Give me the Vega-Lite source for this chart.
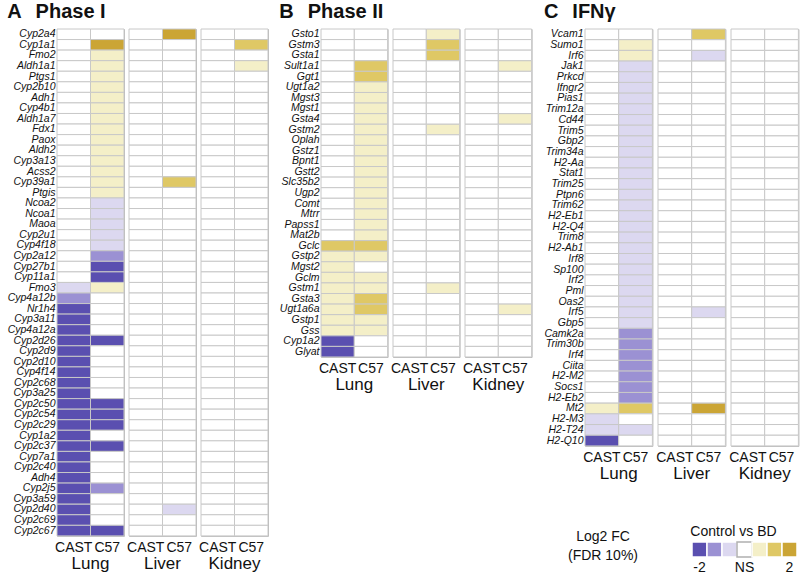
{
"$schema":"https://vega.github.io/schema/vega-lite/v6.json",
"background":"white",
"padding":{"left":7,"top":2,"right":2,"bottom":0},
"config":{
"font":"Liberation Sans",
"view":{"stroke":"#b8b8b8","strokeWidth":1},
"concat":{"spacing":10},
"facet":{"spacing":5},
"axis":{"domain":false,"ticks":false,"grid":false,"title":null,"labelColor":"#111"},
"title":{"anchor":"start","fontSize":20,"fontWeight":"bold","color":"#111","frame":"bounds","offset":6},
"header":{"title":null,"labelOrient":"bottom","labelFontSize":17,"labelPadding":2,"labelColor":"#111"}
},
"datasets":{
"A":[
{"g":"Cyp2a4","t":"Lung","s":"CAST","v":0},{"g":"Cyp2a4","t":"Lung","s":"C57","v":0},{"g":"Cyp2a4","t":"Liver","s":"CAST","v":0},{"g":"Cyp2a4","t":"Liver","s":"C57","v":3},{"g":"Cyp2a4","t":"Kidney","s":"CAST","v":0},{"g":"Cyp2a4","t":"Kidney","s":"C57","v":0},
{"g":"Cyp1a1","t":"Lung","s":"CAST","v":0},{"g":"Cyp1a1","t":"Lung","s":"C57","v":3},{"g":"Cyp1a1","t":"Liver","s":"CAST","v":0},{"g":"Cyp1a1","t":"Liver","s":"C57","v":0},{"g":"Cyp1a1","t":"Kidney","s":"CAST","v":0},{"g":"Cyp1a1","t":"Kidney","s":"C57","v":2},
{"g":"Fmo2","t":"Lung","s":"CAST","v":0},{"g":"Fmo2","t":"Lung","s":"C57","v":1},{"g":"Fmo2","t":"Liver","s":"CAST","v":0},{"g":"Fmo2","t":"Liver","s":"C57","v":0},{"g":"Fmo2","t":"Kidney","s":"CAST","v":0},{"g":"Fmo2","t":"Kidney","s":"C57","v":0},
{"g":"Aldh1a1","t":"Lung","s":"CAST","v":0},{"g":"Aldh1a1","t":"Lung","s":"C57","v":1},{"g":"Aldh1a1","t":"Liver","s":"CAST","v":0},{"g":"Aldh1a1","t":"Liver","s":"C57","v":0},{"g":"Aldh1a1","t":"Kidney","s":"CAST","v":0},{"g":"Aldh1a1","t":"Kidney","s":"C57","v":1},
{"g":"Ptgs1","t":"Lung","s":"CAST","v":0},{"g":"Ptgs1","t":"Lung","s":"C57","v":1},{"g":"Ptgs1","t":"Liver","s":"CAST","v":0},{"g":"Ptgs1","t":"Liver","s":"C57","v":0},{"g":"Ptgs1","t":"Kidney","s":"CAST","v":0},{"g":"Ptgs1","t":"Kidney","s":"C57","v":0},
{"g":"Cyp2b10","t":"Lung","s":"CAST","v":0},{"g":"Cyp2b10","t":"Lung","s":"C57","v":1},{"g":"Cyp2b10","t":"Liver","s":"CAST","v":0},{"g":"Cyp2b10","t":"Liver","s":"C57","v":0},{"g":"Cyp2b10","t":"Kidney","s":"CAST","v":0},{"g":"Cyp2b10","t":"Kidney","s":"C57","v":0},
{"g":"Adh1","t":"Lung","s":"CAST","v":0},{"g":"Adh1","t":"Lung","s":"C57","v":1},{"g":"Adh1","t":"Liver","s":"CAST","v":0},{"g":"Adh1","t":"Liver","s":"C57","v":0},{"g":"Adh1","t":"Kidney","s":"CAST","v":0},{"g":"Adh1","t":"Kidney","s":"C57","v":0},
{"g":"Cyp4b1","t":"Lung","s":"CAST","v":0},{"g":"Cyp4b1","t":"Lung","s":"C57","v":1},{"g":"Cyp4b1","t":"Liver","s":"CAST","v":0},{"g":"Cyp4b1","t":"Liver","s":"C57","v":0},{"g":"Cyp4b1","t":"Kidney","s":"CAST","v":0},{"g":"Cyp4b1","t":"Kidney","s":"C57","v":0},
{"g":"Aldh1a7","t":"Lung","s":"CAST","v":0},{"g":"Aldh1a7","t":"Lung","s":"C57","v":1},{"g":"Aldh1a7","t":"Liver","s":"CAST","v":0},{"g":"Aldh1a7","t":"Liver","s":"C57","v":0},{"g":"Aldh1a7","t":"Kidney","s":"CAST","v":0},{"g":"Aldh1a7","t":"Kidney","s":"C57","v":0},
{"g":"Fdx1","t":"Lung","s":"CAST","v":0},{"g":"Fdx1","t":"Lung","s":"C57","v":1},{"g":"Fdx1","t":"Liver","s":"CAST","v":0},{"g":"Fdx1","t":"Liver","s":"C57","v":0},{"g":"Fdx1","t":"Kidney","s":"CAST","v":0},{"g":"Fdx1","t":"Kidney","s":"C57","v":0},
{"g":"Paox","t":"Lung","s":"CAST","v":0},{"g":"Paox","t":"Lung","s":"C57","v":1},{"g":"Paox","t":"Liver","s":"CAST","v":0},{"g":"Paox","t":"Liver","s":"C57","v":0},{"g":"Paox","t":"Kidney","s":"CAST","v":0},{"g":"Paox","t":"Kidney","s":"C57","v":0},
{"g":"Aldh2","t":"Lung","s":"CAST","v":0},{"g":"Aldh2","t":"Lung","s":"C57","v":1},{"g":"Aldh2","t":"Liver","s":"CAST","v":0},{"g":"Aldh2","t":"Liver","s":"C57","v":0},{"g":"Aldh2","t":"Kidney","s":"CAST","v":0},{"g":"Aldh2","t":"Kidney","s":"C57","v":0},
{"g":"Cyp3a13","t":"Lung","s":"CAST","v":0},{"g":"Cyp3a13","t":"Lung","s":"C57","v":1},{"g":"Cyp3a13","t":"Liver","s":"CAST","v":0},{"g":"Cyp3a13","t":"Liver","s":"C57","v":0},{"g":"Cyp3a13","t":"Kidney","s":"CAST","v":0},{"g":"Cyp3a13","t":"Kidney","s":"C57","v":0},
{"g":"Acss2","t":"Lung","s":"CAST","v":0},{"g":"Acss2","t":"Lung","s":"C57","v":1},{"g":"Acss2","t":"Liver","s":"CAST","v":0},{"g":"Acss2","t":"Liver","s":"C57","v":0},{"g":"Acss2","t":"Kidney","s":"CAST","v":0},{"g":"Acss2","t":"Kidney","s":"C57","v":0},
{"g":"Cyp39a1","t":"Lung","s":"CAST","v":0},{"g":"Cyp39a1","t":"Lung","s":"C57","v":1},{"g":"Cyp39a1","t":"Liver","s":"CAST","v":0},{"g":"Cyp39a1","t":"Liver","s":"C57","v":2},{"g":"Cyp39a1","t":"Kidney","s":"CAST","v":0},{"g":"Cyp39a1","t":"Kidney","s":"C57","v":0},
{"g":"Ptgis","t":"Lung","s":"CAST","v":0},{"g":"Ptgis","t":"Lung","s":"C57","v":1},{"g":"Ptgis","t":"Liver","s":"CAST","v":0},{"g":"Ptgis","t":"Liver","s":"C57","v":0},{"g":"Ptgis","t":"Kidney","s":"CAST","v":0},{"g":"Ptgis","t":"Kidney","s":"C57","v":0},
{"g":"Ncoa2","t":"Lung","s":"CAST","v":0},{"g":"Ncoa2","t":"Lung","s":"C57","v":-1},{"g":"Ncoa2","t":"Liver","s":"CAST","v":0},{"g":"Ncoa2","t":"Liver","s":"C57","v":0},{"g":"Ncoa2","t":"Kidney","s":"CAST","v":0},{"g":"Ncoa2","t":"Kidney","s":"C57","v":0},
{"g":"Ncoa1","t":"Lung","s":"CAST","v":0},{"g":"Ncoa1","t":"Lung","s":"C57","v":-1},{"g":"Ncoa1","t":"Liver","s":"CAST","v":0},{"g":"Ncoa1","t":"Liver","s":"C57","v":0},{"g":"Ncoa1","t":"Kidney","s":"CAST","v":0},{"g":"Ncoa1","t":"Kidney","s":"C57","v":0},
{"g":"Maoa","t":"Lung","s":"CAST","v":0},{"g":"Maoa","t":"Lung","s":"C57","v":-1},{"g":"Maoa","t":"Liver","s":"CAST","v":0},{"g":"Maoa","t":"Liver","s":"C57","v":0},{"g":"Maoa","t":"Kidney","s":"CAST","v":0},{"g":"Maoa","t":"Kidney","s":"C57","v":0},
{"g":"Cyp2u1","t":"Lung","s":"CAST","v":0},{"g":"Cyp2u1","t":"Lung","s":"C57","v":-1},{"g":"Cyp2u1","t":"Liver","s":"CAST","v":0},{"g":"Cyp2u1","t":"Liver","s":"C57","v":0},{"g":"Cyp2u1","t":"Kidney","s":"CAST","v":0},{"g":"Cyp2u1","t":"Kidney","s":"C57","v":0},
{"g":"Cyp4f18","t":"Lung","s":"CAST","v":0},{"g":"Cyp4f18","t":"Lung","s":"C57","v":-1},{"g":"Cyp4f18","t":"Liver","s":"CAST","v":0},{"g":"Cyp4f18","t":"Liver","s":"C57","v":0},{"g":"Cyp4f18","t":"Kidney","s":"CAST","v":0},{"g":"Cyp4f18","t":"Kidney","s":"C57","v":0},
{"g":"Cyp2a12","t":"Lung","s":"CAST","v":0},{"g":"Cyp2a12","t":"Lung","s":"C57","v":-2},{"g":"Cyp2a12","t":"Liver","s":"CAST","v":0},{"g":"Cyp2a12","t":"Liver","s":"C57","v":0},{"g":"Cyp2a12","t":"Kidney","s":"CAST","v":0},{"g":"Cyp2a12","t":"Kidney","s":"C57","v":0},
{"g":"Cyp27b1","t":"Lung","s":"CAST","v":0},{"g":"Cyp27b1","t":"Lung","s":"C57","v":-3},{"g":"Cyp27b1","t":"Liver","s":"CAST","v":0},{"g":"Cyp27b1","t":"Liver","s":"C57","v":0},{"g":"Cyp27b1","t":"Kidney","s":"CAST","v":0},{"g":"Cyp27b1","t":"Kidney","s":"C57","v":0},
{"g":"Cyp11a1","t":"Lung","s":"CAST","v":0},{"g":"Cyp11a1","t":"Lung","s":"C57","v":-3},{"g":"Cyp11a1","t":"Liver","s":"CAST","v":0},{"g":"Cyp11a1","t":"Liver","s":"C57","v":0},{"g":"Cyp11a1","t":"Kidney","s":"CAST","v":0},{"g":"Cyp11a1","t":"Kidney","s":"C57","v":0},
{"g":"Fmo3","t":"Lung","s":"CAST","v":-1},{"g":"Fmo3","t":"Lung","s":"C57","v":1},{"g":"Fmo3","t":"Liver","s":"CAST","v":0},{"g":"Fmo3","t":"Liver","s":"C57","v":0},{"g":"Fmo3","t":"Kidney","s":"CAST","v":0},{"g":"Fmo3","t":"Kidney","s":"C57","v":0},
{"g":"Cyp4a12b","t":"Lung","s":"CAST","v":-2},{"g":"Cyp4a12b","t":"Lung","s":"C57","v":0},{"g":"Cyp4a12b","t":"Liver","s":"CAST","v":0},{"g":"Cyp4a12b","t":"Liver","s":"C57","v":0},{"g":"Cyp4a12b","t":"Kidney","s":"CAST","v":0},{"g":"Cyp4a12b","t":"Kidney","s":"C57","v":0},
{"g":"Nr1h4","t":"Lung","s":"CAST","v":-3},{"g":"Nr1h4","t":"Lung","s":"C57","v":0},{"g":"Nr1h4","t":"Liver","s":"CAST","v":0},{"g":"Nr1h4","t":"Liver","s":"C57","v":0},{"g":"Nr1h4","t":"Kidney","s":"CAST","v":0},{"g":"Nr1h4","t":"Kidney","s":"C57","v":0},
{"g":"Cyp3a11","t":"Lung","s":"CAST","v":-3},{"g":"Cyp3a11","t":"Lung","s":"C57","v":0},{"g":"Cyp3a11","t":"Liver","s":"CAST","v":0},{"g":"Cyp3a11","t":"Liver","s":"C57","v":0},{"g":"Cyp3a11","t":"Kidney","s":"CAST","v":0},{"g":"Cyp3a11","t":"Kidney","s":"C57","v":0},
{"g":"Cyp4a12a","t":"Lung","s":"CAST","v":-3},{"g":"Cyp4a12a","t":"Lung","s":"C57","v":0},{"g":"Cyp4a12a","t":"Liver","s":"CAST","v":0},{"g":"Cyp4a12a","t":"Liver","s":"C57","v":0},{"g":"Cyp4a12a","t":"Kidney","s":"CAST","v":0},{"g":"Cyp4a12a","t":"Kidney","s":"C57","v":0},
{"g":"Cyp2d26","t":"Lung","s":"CAST","v":-3},{"g":"Cyp2d26","t":"Lung","s":"C57","v":-3},{"g":"Cyp2d26","t":"Liver","s":"CAST","v":0},{"g":"Cyp2d26","t":"Liver","s":"C57","v":0},{"g":"Cyp2d26","t":"Kidney","s":"CAST","v":0},{"g":"Cyp2d26","t":"Kidney","s":"C57","v":0},
{"g":"Cyp2d9","t":"Lung","s":"CAST","v":-3},{"g":"Cyp2d9","t":"Lung","s":"C57","v":0},{"g":"Cyp2d9","t":"Liver","s":"CAST","v":0},{"g":"Cyp2d9","t":"Liver","s":"C57","v":0},{"g":"Cyp2d9","t":"Kidney","s":"CAST","v":0},{"g":"Cyp2d9","t":"Kidney","s":"C57","v":0},
{"g":"Cyp2d10","t":"Lung","s":"CAST","v":-3},{"g":"Cyp2d10","t":"Lung","s":"C57","v":0},{"g":"Cyp2d10","t":"Liver","s":"CAST","v":0},{"g":"Cyp2d10","t":"Liver","s":"C57","v":0},{"g":"Cyp2d10","t":"Kidney","s":"CAST","v":0},{"g":"Cyp2d10","t":"Kidney","s":"C57","v":0},
{"g":"Cyp4f14","t":"Lung","s":"CAST","v":-3},{"g":"Cyp4f14","t":"Lung","s":"C57","v":0},{"g":"Cyp4f14","t":"Liver","s":"CAST","v":0},{"g":"Cyp4f14","t":"Liver","s":"C57","v":0},{"g":"Cyp4f14","t":"Kidney","s":"CAST","v":0},{"g":"Cyp4f14","t":"Kidney","s":"C57","v":0},
{"g":"Cyp2c68","t":"Lung","s":"CAST","v":-3},{"g":"Cyp2c68","t":"Lung","s":"C57","v":0},{"g":"Cyp2c68","t":"Liver","s":"CAST","v":0},{"g":"Cyp2c68","t":"Liver","s":"C57","v":0},{"g":"Cyp2c68","t":"Kidney","s":"CAST","v":0},{"g":"Cyp2c68","t":"Kidney","s":"C57","v":0},
{"g":"Cyp3a25","t":"Lung","s":"CAST","v":-3},{"g":"Cyp3a25","t":"Lung","s":"C57","v":0},{"g":"Cyp3a25","t":"Liver","s":"CAST","v":0},{"g":"Cyp3a25","t":"Liver","s":"C57","v":0},{"g":"Cyp3a25","t":"Kidney","s":"CAST","v":0},{"g":"Cyp3a25","t":"Kidney","s":"C57","v":0},
{"g":"Cyp2c50","t":"Lung","s":"CAST","v":-3},{"g":"Cyp2c50","t":"Lung","s":"C57","v":-3},{"g":"Cyp2c50","t":"Liver","s":"CAST","v":0},{"g":"Cyp2c50","t":"Liver","s":"C57","v":0},{"g":"Cyp2c50","t":"Kidney","s":"CAST","v":0},{"g":"Cyp2c50","t":"Kidney","s":"C57","v":0},
{"g":"Cyp2c54","t":"Lung","s":"CAST","v":-3},{"g":"Cyp2c54","t":"Lung","s":"C57","v":-3},{"g":"Cyp2c54","t":"Liver","s":"CAST","v":0},{"g":"Cyp2c54","t":"Liver","s":"C57","v":0},{"g":"Cyp2c54","t":"Kidney","s":"CAST","v":0},{"g":"Cyp2c54","t":"Kidney","s":"C57","v":0},
{"g":"Cyp2c29","t":"Lung","s":"CAST","v":-3},{"g":"Cyp2c29","t":"Lung","s":"C57","v":-3},{"g":"Cyp2c29","t":"Liver","s":"CAST","v":0},{"g":"Cyp2c29","t":"Liver","s":"C57","v":0},{"g":"Cyp2c29","t":"Kidney","s":"CAST","v":0},{"g":"Cyp2c29","t":"Kidney","s":"C57","v":0},
{"g":"Cyp1a2","t":"Lung","s":"CAST","v":-3},{"g":"Cyp1a2","t":"Lung","s":"C57","v":0},{"g":"Cyp1a2","t":"Liver","s":"CAST","v":0},{"g":"Cyp1a2","t":"Liver","s":"C57","v":0},{"g":"Cyp1a2","t":"Kidney","s":"CAST","v":0},{"g":"Cyp1a2","t":"Kidney","s":"C57","v":0},
{"g":"Cyp2c37","t":"Lung","s":"CAST","v":-3},{"g":"Cyp2c37","t":"Lung","s":"C57","v":-3},{"g":"Cyp2c37","t":"Liver","s":"CAST","v":0},{"g":"Cyp2c37","t":"Liver","s":"C57","v":0},{"g":"Cyp2c37","t":"Kidney","s":"CAST","v":0},{"g":"Cyp2c37","t":"Kidney","s":"C57","v":0},
{"g":"Cyp7a1","t":"Lung","s":"CAST","v":-3},{"g":"Cyp7a1","t":"Lung","s":"C57","v":0},{"g":"Cyp7a1","t":"Liver","s":"CAST","v":0},{"g":"Cyp7a1","t":"Liver","s":"C57","v":0},{"g":"Cyp7a1","t":"Kidney","s":"CAST","v":0},{"g":"Cyp7a1","t":"Kidney","s":"C57","v":0},
{"g":"Cyp2c40","t":"Lung","s":"CAST","v":-3},{"g":"Cyp2c40","t":"Lung","s":"C57","v":0},{"g":"Cyp2c40","t":"Liver","s":"CAST","v":0},{"g":"Cyp2c40","t":"Liver","s":"C57","v":0},{"g":"Cyp2c40","t":"Kidney","s":"CAST","v":0},{"g":"Cyp2c40","t":"Kidney","s":"C57","v":0},
{"g":"Adh4","t":"Lung","s":"CAST","v":-3},{"g":"Adh4","t":"Lung","s":"C57","v":0},{"g":"Adh4","t":"Liver","s":"CAST","v":0},{"g":"Adh4","t":"Liver","s":"C57","v":0},{"g":"Adh4","t":"Kidney","s":"CAST","v":0},{"g":"Adh4","t":"Kidney","s":"C57","v":0},
{"g":"Cyp2j5","t":"Lung","s":"CAST","v":-3},{"g":"Cyp2j5","t":"Lung","s":"C57","v":-2},{"g":"Cyp2j5","t":"Liver","s":"CAST","v":0},{"g":"Cyp2j5","t":"Liver","s":"C57","v":0},{"g":"Cyp2j5","t":"Kidney","s":"CAST","v":0},{"g":"Cyp2j5","t":"Kidney","s":"C57","v":0},
{"g":"Cyp3a59","t":"Lung","s":"CAST","v":-3},{"g":"Cyp3a59","t":"Lung","s":"C57","v":0},{"g":"Cyp3a59","t":"Liver","s":"CAST","v":0},{"g":"Cyp3a59","t":"Liver","s":"C57","v":0},{"g":"Cyp3a59","t":"Kidney","s":"CAST","v":0},{"g":"Cyp3a59","t":"Kidney","s":"C57","v":0},
{"g":"Cyp2d40","t":"Lung","s":"CAST","v":-3},{"g":"Cyp2d40","t":"Lung","s":"C57","v":0},{"g":"Cyp2d40","t":"Liver","s":"CAST","v":0},{"g":"Cyp2d40","t":"Liver","s":"C57","v":-1},{"g":"Cyp2d40","t":"Kidney","s":"CAST","v":0},{"g":"Cyp2d40","t":"Kidney","s":"C57","v":0},
{"g":"Cyp2c69","t":"Lung","s":"CAST","v":-3},{"g":"Cyp2c69","t":"Lung","s":"C57","v":0},{"g":"Cyp2c69","t":"Liver","s":"CAST","v":0},{"g":"Cyp2c69","t":"Liver","s":"C57","v":0},{"g":"Cyp2c69","t":"Kidney","s":"CAST","v":0},{"g":"Cyp2c69","t":"Kidney","s":"C57","v":0},
{"g":"Cyp2c67","t":"Lung","s":"CAST","v":-3},{"g":"Cyp2c67","t":"Lung","s":"C57","v":-3},{"g":"Cyp2c67","t":"Liver","s":"CAST","v":0},{"g":"Cyp2c67","t":"Liver","s":"C57","v":0},{"g":"Cyp2c67","t":"Kidney","s":"CAST","v":0},{"g":"Cyp2c67","t":"Kidney","s":"C57","v":0}
],
"B":[
{"g":"Gsto1","t":"Lung","s":"CAST","v":0},{"g":"Gsto1","t":"Lung","s":"C57","v":0},{"g":"Gsto1","t":"Liver","s":"CAST","v":0},{"g":"Gsto1","t":"Liver","s":"C57","v":1},{"g":"Gsto1","t":"Kidney","s":"CAST","v":0},{"g":"Gsto1","t":"Kidney","s":"C57","v":0},
{"g":"Gstm3","t":"Lung","s":"CAST","v":0},{"g":"Gstm3","t":"Lung","s":"C57","v":0},{"g":"Gstm3","t":"Liver","s":"CAST","v":0},{"g":"Gstm3","t":"Liver","s":"C57","v":2},{"g":"Gstm3","t":"Kidney","s":"CAST","v":0},{"g":"Gstm3","t":"Kidney","s":"C57","v":0},
{"g":"Gsta1","t":"Lung","s":"CAST","v":0},{"g":"Gsta1","t":"Lung","s":"C57","v":0},{"g":"Gsta1","t":"Liver","s":"CAST","v":0},{"g":"Gsta1","t":"Liver","s":"C57","v":2},{"g":"Gsta1","t":"Kidney","s":"CAST","v":0},{"g":"Gsta1","t":"Kidney","s":"C57","v":0},
{"g":"Sult1a1","t":"Lung","s":"CAST","v":0},{"g":"Sult1a1","t":"Lung","s":"C57","v":2},{"g":"Sult1a1","t":"Liver","s":"CAST","v":0},{"g":"Sult1a1","t":"Liver","s":"C57","v":0},{"g":"Sult1a1","t":"Kidney","s":"CAST","v":0},{"g":"Sult1a1","t":"Kidney","s":"C57","v":1},
{"g":"Ggt1","t":"Lung","s":"CAST","v":0},{"g":"Ggt1","t":"Lung","s":"C57","v":2},{"g":"Ggt1","t":"Liver","s":"CAST","v":0},{"g":"Ggt1","t":"Liver","s":"C57","v":0},{"g":"Ggt1","t":"Kidney","s":"CAST","v":0},{"g":"Ggt1","t":"Kidney","s":"C57","v":0},
{"g":"Ugt1a2","t":"Lung","s":"CAST","v":0},{"g":"Ugt1a2","t":"Lung","s":"C57","v":1},{"g":"Ugt1a2","t":"Liver","s":"CAST","v":0},{"g":"Ugt1a2","t":"Liver","s":"C57","v":0},{"g":"Ugt1a2","t":"Kidney","s":"CAST","v":0},{"g":"Ugt1a2","t":"Kidney","s":"C57","v":0},
{"g":"Mgst3","t":"Lung","s":"CAST","v":0},{"g":"Mgst3","t":"Lung","s":"C57","v":1},{"g":"Mgst3","t":"Liver","s":"CAST","v":0},{"g":"Mgst3","t":"Liver","s":"C57","v":0},{"g":"Mgst3","t":"Kidney","s":"CAST","v":0},{"g":"Mgst3","t":"Kidney","s":"C57","v":0},
{"g":"Mgst1","t":"Lung","s":"CAST","v":0},{"g":"Mgst1","t":"Lung","s":"C57","v":1},{"g":"Mgst1","t":"Liver","s":"CAST","v":0},{"g":"Mgst1","t":"Liver","s":"C57","v":0},{"g":"Mgst1","t":"Kidney","s":"CAST","v":0},{"g":"Mgst1","t":"Kidney","s":"C57","v":0},
{"g":"Gsta4","t":"Lung","s":"CAST","v":0},{"g":"Gsta4","t":"Lung","s":"C57","v":1},{"g":"Gsta4","t":"Liver","s":"CAST","v":0},{"g":"Gsta4","t":"Liver","s":"C57","v":0},{"g":"Gsta4","t":"Kidney","s":"CAST","v":0},{"g":"Gsta4","t":"Kidney","s":"C57","v":1},
{"g":"Gstm2","t":"Lung","s":"CAST","v":0},{"g":"Gstm2","t":"Lung","s":"C57","v":1},{"g":"Gstm2","t":"Liver","s":"CAST","v":0},{"g":"Gstm2","t":"Liver","s":"C57","v":1},{"g":"Gstm2","t":"Kidney","s":"CAST","v":0},{"g":"Gstm2","t":"Kidney","s":"C57","v":0},
{"g":"Oplah","t":"Lung","s":"CAST","v":0},{"g":"Oplah","t":"Lung","s":"C57","v":1},{"g":"Oplah","t":"Liver","s":"CAST","v":0},{"g":"Oplah","t":"Liver","s":"C57","v":0},{"g":"Oplah","t":"Kidney","s":"CAST","v":0},{"g":"Oplah","t":"Kidney","s":"C57","v":0},
{"g":"Gstz1","t":"Lung","s":"CAST","v":0},{"g":"Gstz1","t":"Lung","s":"C57","v":1},{"g":"Gstz1","t":"Liver","s":"CAST","v":0},{"g":"Gstz1","t":"Liver","s":"C57","v":0},{"g":"Gstz1","t":"Kidney","s":"CAST","v":0},{"g":"Gstz1","t":"Kidney","s":"C57","v":0},
{"g":"Bpnt1","t":"Lung","s":"CAST","v":0},{"g":"Bpnt1","t":"Lung","s":"C57","v":1},{"g":"Bpnt1","t":"Liver","s":"CAST","v":0},{"g":"Bpnt1","t":"Liver","s":"C57","v":0},{"g":"Bpnt1","t":"Kidney","s":"CAST","v":0},{"g":"Bpnt1","t":"Kidney","s":"C57","v":0},
{"g":"Gstt2","t":"Lung","s":"CAST","v":0},{"g":"Gstt2","t":"Lung","s":"C57","v":1},{"g":"Gstt2","t":"Liver","s":"CAST","v":0},{"g":"Gstt2","t":"Liver","s":"C57","v":0},{"g":"Gstt2","t":"Kidney","s":"CAST","v":0},{"g":"Gstt2","t":"Kidney","s":"C57","v":0},
{"g":"Slc35b2","t":"Lung","s":"CAST","v":0},{"g":"Slc35b2","t":"Lung","s":"C57","v":1},{"g":"Slc35b2","t":"Liver","s":"CAST","v":0},{"g":"Slc35b2","t":"Liver","s":"C57","v":0},{"g":"Slc35b2","t":"Kidney","s":"CAST","v":0},{"g":"Slc35b2","t":"Kidney","s":"C57","v":0},
{"g":"Ugp2","t":"Lung","s":"CAST","v":0},{"g":"Ugp2","t":"Lung","s":"C57","v":1},{"g":"Ugp2","t":"Liver","s":"CAST","v":0},{"g":"Ugp2","t":"Liver","s":"C57","v":0},{"g":"Ugp2","t":"Kidney","s":"CAST","v":0},{"g":"Ugp2","t":"Kidney","s":"C57","v":0},
{"g":"Comt","t":"Lung","s":"CAST","v":0},{"g":"Comt","t":"Lung","s":"C57","v":1},{"g":"Comt","t":"Liver","s":"CAST","v":0},{"g":"Comt","t":"Liver","s":"C57","v":0},{"g":"Comt","t":"Kidney","s":"CAST","v":0},{"g":"Comt","t":"Kidney","s":"C57","v":0},
{"g":"Mtrr","t":"Lung","s":"CAST","v":0},{"g":"Mtrr","t":"Lung","s":"C57","v":1},{"g":"Mtrr","t":"Liver","s":"CAST","v":0},{"g":"Mtrr","t":"Liver","s":"C57","v":0},{"g":"Mtrr","t":"Kidney","s":"CAST","v":0},{"g":"Mtrr","t":"Kidney","s":"C57","v":0},
{"g":"Papss1","t":"Lung","s":"CAST","v":0},{"g":"Papss1","t":"Lung","s":"C57","v":1},{"g":"Papss1","t":"Liver","s":"CAST","v":0},{"g":"Papss1","t":"Liver","s":"C57","v":0},{"g":"Papss1","t":"Kidney","s":"CAST","v":0},{"g":"Papss1","t":"Kidney","s":"C57","v":0},
{"g":"Mat2b","t":"Lung","s":"CAST","v":0},{"g":"Mat2b","t":"Lung","s":"C57","v":1},{"g":"Mat2b","t":"Liver","s":"CAST","v":0},{"g":"Mat2b","t":"Liver","s":"C57","v":0},{"g":"Mat2b","t":"Kidney","s":"CAST","v":0},{"g":"Mat2b","t":"Kidney","s":"C57","v":0},
{"g":"Gclc","t":"Lung","s":"CAST","v":2},{"g":"Gclc","t":"Lung","s":"C57","v":2},{"g":"Gclc","t":"Liver","s":"CAST","v":0},{"g":"Gclc","t":"Liver","s":"C57","v":0},{"g":"Gclc","t":"Kidney","s":"CAST","v":0},{"g":"Gclc","t":"Kidney","s":"C57","v":0},
{"g":"Gstp2","t":"Lung","s":"CAST","v":1},{"g":"Gstp2","t":"Lung","s":"C57","v":1},{"g":"Gstp2","t":"Liver","s":"CAST","v":0},{"g":"Gstp2","t":"Liver","s":"C57","v":0},{"g":"Gstp2","t":"Kidney","s":"CAST","v":0},{"g":"Gstp2","t":"Kidney","s":"C57","v":0},
{"g":"Mgst2","t":"Lung","s":"CAST","v":1},{"g":"Mgst2","t":"Lung","s":"C57","v":0},{"g":"Mgst2","t":"Liver","s":"CAST","v":0},{"g":"Mgst2","t":"Liver","s":"C57","v":0},{"g":"Mgst2","t":"Kidney","s":"CAST","v":0},{"g":"Mgst2","t":"Kidney","s":"C57","v":0},
{"g":"Gclm","t":"Lung","s":"CAST","v":1},{"g":"Gclm","t":"Lung","s":"C57","v":1},{"g":"Gclm","t":"Liver","s":"CAST","v":0},{"g":"Gclm","t":"Liver","s":"C57","v":0},{"g":"Gclm","t":"Kidney","s":"CAST","v":0},{"g":"Gclm","t":"Kidney","s":"C57","v":0},
{"g":"Gstm1","t":"Lung","s":"CAST","v":1},{"g":"Gstm1","t":"Lung","s":"C57","v":1},{"g":"Gstm1","t":"Liver","s":"CAST","v":0},{"g":"Gstm1","t":"Liver","s":"C57","v":1},{"g":"Gstm1","t":"Kidney","s":"CAST","v":0},{"g":"Gstm1","t":"Kidney","s":"C57","v":0},
{"g":"Gsta3","t":"Lung","s":"CAST","v":1},{"g":"Gsta3","t":"Lung","s":"C57","v":2},{"g":"Gsta3","t":"Liver","s":"CAST","v":0},{"g":"Gsta3","t":"Liver","s":"C57","v":0},{"g":"Gsta3","t":"Kidney","s":"CAST","v":0},{"g":"Gsta3","t":"Kidney","s":"C57","v":0},
{"g":"Ugt1a6a","t":"Lung","s":"CAST","v":1},{"g":"Ugt1a6a","t":"Lung","s":"C57","v":2},{"g":"Ugt1a6a","t":"Liver","s":"CAST","v":0},{"g":"Ugt1a6a","t":"Liver","s":"C57","v":0},{"g":"Ugt1a6a","t":"Kidney","s":"CAST","v":0},{"g":"Ugt1a6a","t":"Kidney","s":"C57","v":1},
{"g":"Gstp1","t":"Lung","s":"CAST","v":1},{"g":"Gstp1","t":"Lung","s":"C57","v":1},{"g":"Gstp1","t":"Liver","s":"CAST","v":0},{"g":"Gstp1","t":"Liver","s":"C57","v":0},{"g":"Gstp1","t":"Kidney","s":"CAST","v":0},{"g":"Gstp1","t":"Kidney","s":"C57","v":0},
{"g":"Gss","t":"Lung","s":"CAST","v":1},{"g":"Gss","t":"Lung","s":"C57","v":1},{"g":"Gss","t":"Liver","s":"CAST","v":0},{"g":"Gss","t":"Liver","s":"C57","v":0},{"g":"Gss","t":"Kidney","s":"CAST","v":0},{"g":"Gss","t":"Kidney","s":"C57","v":0},
{"g":"Cyp1a2","t":"Lung","s":"CAST","v":-3},{"g":"Cyp1a2","t":"Lung","s":"C57","v":0},{"g":"Cyp1a2","t":"Liver","s":"CAST","v":0},{"g":"Cyp1a2","t":"Liver","s":"C57","v":0},{"g":"Cyp1a2","t":"Kidney","s":"CAST","v":0},{"g":"Cyp1a2","t":"Kidney","s":"C57","v":0},
{"g":"Glyat","t":"Lung","s":"CAST","v":-3},{"g":"Glyat","t":"Lung","s":"C57","v":0},{"g":"Glyat","t":"Liver","s":"CAST","v":0},{"g":"Glyat","t":"Liver","s":"C57","v":0},{"g":"Glyat","t":"Kidney","s":"CAST","v":0},{"g":"Glyat","t":"Kidney","s":"C57","v":0}
],
"C":[
{"g":"Vcam1","t":"Lung","s":"CAST","v":0},{"g":"Vcam1","t":"Lung","s":"C57","v":0},{"g":"Vcam1","t":"Liver","s":"CAST","v":0},{"g":"Vcam1","t":"Liver","s":"C57","v":2},{"g":"Vcam1","t":"Kidney","s":"CAST","v":0},{"g":"Vcam1","t":"Kidney","s":"C57","v":0},
{"g":"Sumo1","t":"Lung","s":"CAST","v":0},{"g":"Sumo1","t":"Lung","s":"C57","v":1},{"g":"Sumo1","t":"Liver","s":"CAST","v":0},{"g":"Sumo1","t":"Liver","s":"C57","v":0},{"g":"Sumo1","t":"Kidney","s":"CAST","v":0},{"g":"Sumo1","t":"Kidney","s":"C57","v":0},
{"g":"Irf6","t":"Lung","s":"CAST","v":0},{"g":"Irf6","t":"Lung","s":"C57","v":1},{"g":"Irf6","t":"Liver","s":"CAST","v":0},{"g":"Irf6","t":"Liver","s":"C57","v":-1},{"g":"Irf6","t":"Kidney","s":"CAST","v":0},{"g":"Irf6","t":"Kidney","s":"C57","v":0},
{"g":"Jak1","t":"Lung","s":"CAST","v":0},{"g":"Jak1","t":"Lung","s":"C57","v":-1},{"g":"Jak1","t":"Liver","s":"CAST","v":0},{"g":"Jak1","t":"Liver","s":"C57","v":0},{"g":"Jak1","t":"Kidney","s":"CAST","v":0},{"g":"Jak1","t":"Kidney","s":"C57","v":0},
{"g":"Prkcd","t":"Lung","s":"CAST","v":0},{"g":"Prkcd","t":"Lung","s":"C57","v":-1},{"g":"Prkcd","t":"Liver","s":"CAST","v":0},{"g":"Prkcd","t":"Liver","s":"C57","v":0},{"g":"Prkcd","t":"Kidney","s":"CAST","v":0},{"g":"Prkcd","t":"Kidney","s":"C57","v":0},
{"g":"Ifngr2","t":"Lung","s":"CAST","v":0},{"g":"Ifngr2","t":"Lung","s":"C57","v":-1},{"g":"Ifngr2","t":"Liver","s":"CAST","v":0},{"g":"Ifngr2","t":"Liver","s":"C57","v":0},{"g":"Ifngr2","t":"Kidney","s":"CAST","v":0},{"g":"Ifngr2","t":"Kidney","s":"C57","v":0},
{"g":"Pias1","t":"Lung","s":"CAST","v":0},{"g":"Pias1","t":"Lung","s":"C57","v":-1},{"g":"Pias1","t":"Liver","s":"CAST","v":0},{"g":"Pias1","t":"Liver","s":"C57","v":0},{"g":"Pias1","t":"Kidney","s":"CAST","v":0},{"g":"Pias1","t":"Kidney","s":"C57","v":0},
{"g":"Trim12a","t":"Lung","s":"CAST","v":0},{"g":"Trim12a","t":"Lung","s":"C57","v":-1},{"g":"Trim12a","t":"Liver","s":"CAST","v":0},{"g":"Trim12a","t":"Liver","s":"C57","v":0},{"g":"Trim12a","t":"Kidney","s":"CAST","v":0},{"g":"Trim12a","t":"Kidney","s":"C57","v":0},
{"g":"Cd44","t":"Lung","s":"CAST","v":0},{"g":"Cd44","t":"Lung","s":"C57","v":-1},{"g":"Cd44","t":"Liver","s":"CAST","v":0},{"g":"Cd44","t":"Liver","s":"C57","v":0},{"g":"Cd44","t":"Kidney","s":"CAST","v":0},{"g":"Cd44","t":"Kidney","s":"C57","v":0},
{"g":"Trim5","t":"Lung","s":"CAST","v":0},{"g":"Trim5","t":"Lung","s":"C57","v":-1},{"g":"Trim5","t":"Liver","s":"CAST","v":0},{"g":"Trim5","t":"Liver","s":"C57","v":0},{"g":"Trim5","t":"Kidney","s":"CAST","v":0},{"g":"Trim5","t":"Kidney","s":"C57","v":0},
{"g":"Gbp2","t":"Lung","s":"CAST","v":0},{"g":"Gbp2","t":"Lung","s":"C57","v":-1},{"g":"Gbp2","t":"Liver","s":"CAST","v":0},{"g":"Gbp2","t":"Liver","s":"C57","v":0},{"g":"Gbp2","t":"Kidney","s":"CAST","v":0},{"g":"Gbp2","t":"Kidney","s":"C57","v":0},
{"g":"Trim34a","t":"Lung","s":"CAST","v":0},{"g":"Trim34a","t":"Lung","s":"C57","v":-1},{"g":"Trim34a","t":"Liver","s":"CAST","v":0},{"g":"Trim34a","t":"Liver","s":"C57","v":0},{"g":"Trim34a","t":"Kidney","s":"CAST","v":0},{"g":"Trim34a","t":"Kidney","s":"C57","v":0},
{"g":"H2-Aa","t":"Lung","s":"CAST","v":0},{"g":"H2-Aa","t":"Lung","s":"C57","v":-1},{"g":"H2-Aa","t":"Liver","s":"CAST","v":0},{"g":"H2-Aa","t":"Liver","s":"C57","v":0},{"g":"H2-Aa","t":"Kidney","s":"CAST","v":0},{"g":"H2-Aa","t":"Kidney","s":"C57","v":0},
{"g":"Stat1","t":"Lung","s":"CAST","v":0},{"g":"Stat1","t":"Lung","s":"C57","v":-1},{"g":"Stat1","t":"Liver","s":"CAST","v":0},{"g":"Stat1","t":"Liver","s":"C57","v":0},{"g":"Stat1","t":"Kidney","s":"CAST","v":0},{"g":"Stat1","t":"Kidney","s":"C57","v":0},
{"g":"Trim25","t":"Lung","s":"CAST","v":0},{"g":"Trim25","t":"Lung","s":"C57","v":-1},{"g":"Trim25","t":"Liver","s":"CAST","v":0},{"g":"Trim25","t":"Liver","s":"C57","v":0},{"g":"Trim25","t":"Kidney","s":"CAST","v":0},{"g":"Trim25","t":"Kidney","s":"C57","v":0},
{"g":"Ptpn6","t":"Lung","s":"CAST","v":0},{"g":"Ptpn6","t":"Lung","s":"C57","v":-1},{"g":"Ptpn6","t":"Liver","s":"CAST","v":0},{"g":"Ptpn6","t":"Liver","s":"C57","v":0},{"g":"Ptpn6","t":"Kidney","s":"CAST","v":0},{"g":"Ptpn6","t":"Kidney","s":"C57","v":0},
{"g":"Trim62","t":"Lung","s":"CAST","v":0},{"g":"Trim62","t":"Lung","s":"C57","v":-1},{"g":"Trim62","t":"Liver","s":"CAST","v":0},{"g":"Trim62","t":"Liver","s":"C57","v":0},{"g":"Trim62","t":"Kidney","s":"CAST","v":0},{"g":"Trim62","t":"Kidney","s":"C57","v":0},
{"g":"H2-Eb1","t":"Lung","s":"CAST","v":0},{"g":"H2-Eb1","t":"Lung","s":"C57","v":-1},{"g":"H2-Eb1","t":"Liver","s":"CAST","v":0},{"g":"H2-Eb1","t":"Liver","s":"C57","v":0},{"g":"H2-Eb1","t":"Kidney","s":"CAST","v":0},{"g":"H2-Eb1","t":"Kidney","s":"C57","v":0},
{"g":"H2-Q4","t":"Lung","s":"CAST","v":0},{"g":"H2-Q4","t":"Lung","s":"C57","v":-1},{"g":"H2-Q4","t":"Liver","s":"CAST","v":0},{"g":"H2-Q4","t":"Liver","s":"C57","v":0},{"g":"H2-Q4","t":"Kidney","s":"CAST","v":0},{"g":"H2-Q4","t":"Kidney","s":"C57","v":0},
{"g":"Trim8","t":"Lung","s":"CAST","v":0},{"g":"Trim8","t":"Lung","s":"C57","v":-1},{"g":"Trim8","t":"Liver","s":"CAST","v":0},{"g":"Trim8","t":"Liver","s":"C57","v":0},{"g":"Trim8","t":"Kidney","s":"CAST","v":0},{"g":"Trim8","t":"Kidney","s":"C57","v":0},
{"g":"H2-Ab1","t":"Lung","s":"CAST","v":0},{"g":"H2-Ab1","t":"Lung","s":"C57","v":-1},{"g":"H2-Ab1","t":"Liver","s":"CAST","v":0},{"g":"H2-Ab1","t":"Liver","s":"C57","v":0},{"g":"H2-Ab1","t":"Kidney","s":"CAST","v":0},{"g":"H2-Ab1","t":"Kidney","s":"C57","v":0},
{"g":"Irf8","t":"Lung","s":"CAST","v":0},{"g":"Irf8","t":"Lung","s":"C57","v":-1},{"g":"Irf8","t":"Liver","s":"CAST","v":0},{"g":"Irf8","t":"Liver","s":"C57","v":0},{"g":"Irf8","t":"Kidney","s":"CAST","v":0},{"g":"Irf8","t":"Kidney","s":"C57","v":0},
{"g":"Sp100","t":"Lung","s":"CAST","v":0},{"g":"Sp100","t":"Lung","s":"C57","v":-1},{"g":"Sp100","t":"Liver","s":"CAST","v":0},{"g":"Sp100","t":"Liver","s":"C57","v":0},{"g":"Sp100","t":"Kidney","s":"CAST","v":0},{"g":"Sp100","t":"Kidney","s":"C57","v":0},
{"g":"Irf2","t":"Lung","s":"CAST","v":0},{"g":"Irf2","t":"Lung","s":"C57","v":-1},{"g":"Irf2","t":"Liver","s":"CAST","v":0},{"g":"Irf2","t":"Liver","s":"C57","v":0},{"g":"Irf2","t":"Kidney","s":"CAST","v":0},{"g":"Irf2","t":"Kidney","s":"C57","v":0},
{"g":"Pml","t":"Lung","s":"CAST","v":0},{"g":"Pml","t":"Lung","s":"C57","v":-1},{"g":"Pml","t":"Liver","s":"CAST","v":0},{"g":"Pml","t":"Liver","s":"C57","v":0},{"g":"Pml","t":"Kidney","s":"CAST","v":0},{"g":"Pml","t":"Kidney","s":"C57","v":0},
{"g":"Oas2","t":"Lung","s":"CAST","v":0},{"g":"Oas2","t":"Lung","s":"C57","v":-1},{"g":"Oas2","t":"Liver","s":"CAST","v":0},{"g":"Oas2","t":"Liver","s":"C57","v":0},{"g":"Oas2","t":"Kidney","s":"CAST","v":0},{"g":"Oas2","t":"Kidney","s":"C57","v":0},
{"g":"Irf5","t":"Lung","s":"CAST","v":0},{"g":"Irf5","t":"Lung","s":"C57","v":-1},{"g":"Irf5","t":"Liver","s":"CAST","v":0},{"g":"Irf5","t":"Liver","s":"C57","v":-1},{"g":"Irf5","t":"Kidney","s":"CAST","v":0},{"g":"Irf5","t":"Kidney","s":"C57","v":0},
{"g":"Gbp5","t":"Lung","s":"CAST","v":0},{"g":"Gbp5","t":"Lung","s":"C57","v":-1},{"g":"Gbp5","t":"Liver","s":"CAST","v":0},{"g":"Gbp5","t":"Liver","s":"C57","v":0},{"g":"Gbp5","t":"Kidney","s":"CAST","v":0},{"g":"Gbp5","t":"Kidney","s":"C57","v":0},
{"g":"Camk2a","t":"Lung","s":"CAST","v":0},{"g":"Camk2a","t":"Lung","s":"C57","v":-2},{"g":"Camk2a","t":"Liver","s":"CAST","v":0},{"g":"Camk2a","t":"Liver","s":"C57","v":0},{"g":"Camk2a","t":"Kidney","s":"CAST","v":0},{"g":"Camk2a","t":"Kidney","s":"C57","v":0},
{"g":"Trim30b","t":"Lung","s":"CAST","v":0},{"g":"Trim30b","t":"Lung","s":"C57","v":-2},{"g":"Trim30b","t":"Liver","s":"CAST","v":0},{"g":"Trim30b","t":"Liver","s":"C57","v":0},{"g":"Trim30b","t":"Kidney","s":"CAST","v":0},{"g":"Trim30b","t":"Kidney","s":"C57","v":0},
{"g":"Irf4","t":"Lung","s":"CAST","v":0},{"g":"Irf4","t":"Lung","s":"C57","v":-2},{"g":"Irf4","t":"Liver","s":"CAST","v":0},{"g":"Irf4","t":"Liver","s":"C57","v":0},{"g":"Irf4","t":"Kidney","s":"CAST","v":0},{"g":"Irf4","t":"Kidney","s":"C57","v":0},
{"g":"Ciita","t":"Lung","s":"CAST","v":0},{"g":"Ciita","t":"Lung","s":"C57","v":-2},{"g":"Ciita","t":"Liver","s":"CAST","v":0},{"g":"Ciita","t":"Liver","s":"C57","v":0},{"g":"Ciita","t":"Kidney","s":"CAST","v":0},{"g":"Ciita","t":"Kidney","s":"C57","v":0},
{"g":"H2-M2","t":"Lung","s":"CAST","v":0},{"g":"H2-M2","t":"Lung","s":"C57","v":-2},{"g":"H2-M2","t":"Liver","s":"CAST","v":0},{"g":"H2-M2","t":"Liver","s":"C57","v":0},{"g":"H2-M2","t":"Kidney","s":"CAST","v":0},{"g":"H2-M2","t":"Kidney","s":"C57","v":0},
{"g":"Socs1","t":"Lung","s":"CAST","v":0},{"g":"Socs1","t":"Lung","s":"C57","v":-2},{"g":"Socs1","t":"Liver","s":"CAST","v":0},{"g":"Socs1","t":"Liver","s":"C57","v":0},{"g":"Socs1","t":"Kidney","s":"CAST","v":0},{"g":"Socs1","t":"Kidney","s":"C57","v":0},
{"g":"H2-Eb2","t":"Lung","s":"CAST","v":0},{"g":"H2-Eb2","t":"Lung","s":"C57","v":-2},{"g":"H2-Eb2","t":"Liver","s":"CAST","v":0},{"g":"H2-Eb2","t":"Liver","s":"C57","v":0},{"g":"H2-Eb2","t":"Kidney","s":"CAST","v":0},{"g":"H2-Eb2","t":"Kidney","s":"C57","v":0},
{"g":"Mt2","t":"Lung","s":"CAST","v":1},{"g":"Mt2","t":"Lung","s":"C57","v":2},{"g":"Mt2","t":"Liver","s":"CAST","v":0},{"g":"Mt2","t":"Liver","s":"C57","v":3},{"g":"Mt2","t":"Kidney","s":"CAST","v":0},{"g":"Mt2","t":"Kidney","s":"C57","v":0},
{"g":"H2-M3","t":"Lung","s":"CAST","v":-1},{"g":"H2-M3","t":"Lung","s":"C57","v":0},{"g":"H2-M3","t":"Liver","s":"CAST","v":0},{"g":"H2-M3","t":"Liver","s":"C57","v":0},{"g":"H2-M3","t":"Kidney","s":"CAST","v":0},{"g":"H2-M3","t":"Kidney","s":"C57","v":0},
{"g":"H2-T24","t":"Lung","s":"CAST","v":-1},{"g":"H2-T24","t":"Lung","s":"C57","v":-1},{"g":"H2-T24","t":"Liver","s":"CAST","v":0},{"g":"H2-T24","t":"Liver","s":"C57","v":0},{"g":"H2-T24","t":"Kidney","s":"CAST","v":0},{"g":"H2-T24","t":"Kidney","s":"C57","v":0},
{"g":"H2-Q10","t":"Lung","s":"CAST","v":-3},{"g":"H2-Q10","t":"Lung","s":"C57","v":0},{"g":"H2-Q10","t":"Liver","s":"CAST","v":0},{"g":"H2-Q10","t":"Liver","s":"C57","v":0},{"g":"H2-Q10","t":"Kidney","s":"CAST","v":0},{"g":"H2-Q10","t":"Kidney","s":"C57","v":0}
],
"L":[{"v":-3},{"v":-2},{"v":-1},{"v":0},{"v":1},{"v":2},{"v":3}],
"T":[{"t":"Log2 FC"},{"t":"(FDR 10%)"}]
},
"hconcat":[
{
"title":{"text":"A\u2002\u2009Phase I"},
"data":{"name":"A"},
"bounds":"flush","spacing":5,
"facet":{"column":{"field":"t","type":"nominal","sort":["Lung","Liver","Kidney"]}},
"spec":{
"width":{"step":33.5},"height":{"step":10.56},
"mark":{"type":"rect","stroke":"#c8c8c8","strokeWidth":1},
"encoding":{
"x":{"field":"s","type":"nominal","sort":["CAST","C57"],"axis":{"labelAngle":0,"labelFontSize":14,"labelPadding":4,"labelOverlap":false,"labelBound":false}},
"y":{"field":"g","type":"nominal","sort":null,"axis":{"labelFontSize":10.5,"labelFontStyle":"italic","labelPadding":2}},
"color":{"field":"v","type":"ordinal","scale":{"domain":[-3,-2,-1,0,1,2,3],"range":["#5a4fb0","#9b91d3","#dcd8f0","#ffffff","#f4efc8","#dfc865","#cba535"]},"legend":null}
}
}
},
{
"title":{"text":"B\u2002\u2009Phase II"},
"data":{"name":"B"},
"bounds":"flush","spacing":5,
"facet":{"column":{"field":"t","type":"nominal","sort":["Lung","Liver","Kidney"]}},
"spec":{
"width":{"step":33.3},"height":{"step":10.58},
"mark":{"type":"rect","stroke":"#c8c8c8","strokeWidth":1},
"encoding":{
"x":{"field":"s","type":"nominal","sort":["CAST","C57"],"axis":{"labelAngle":0,"labelFontSize":14,"labelPadding":4,"labelOverlap":false,"labelBound":false}},
"y":{"field":"g","type":"nominal","sort":null,"axis":{"labelFontSize":10.5,"labelFontStyle":"italic","labelPadding":2}},
"color":{"field":"v","type":"ordinal","scale":{"domain":[-3,-2,-1,0,1,2,3],"range":["#5a4fb0","#9b91d3","#dcd8f0","#ffffff","#f4efc8","#dfc865","#cba535"]},"legend":null}
}
}
},
{
"spacing":43,
"vconcat":[
{
"title":{"text":"C\u2002\u2009IFNγ"},
"data":{"name":"C"},
"bounds":"flush","spacing":5,
"facet":{"column":{"field":"t","type":"nominal","sort":["Lung","Liver","Kidney"]}},
"spec":{
"width":{"step":33.7},"height":{"step":10.69},
"mark":{"type":"rect","stroke":"#c8c8c8","strokeWidth":1},
"encoding":{
"x":{"field":"s","type":"nominal","sort":["CAST","C57"],"axis":{"labelAngle":0,"labelFontSize":14,"labelPadding":4,"labelOverlap":false,"labelBound":false}},
"y":{"field":"g","type":"nominal","sort":null,"axis":{"labelFontSize":10.5,"labelFontStyle":"italic","labelPadding":2}},
"color":{"field":"v","type":"ordinal","scale":{"domain":[-3,-2,-1,0,1,2,3],"range":["#5a4fb0","#9b91d3","#dcd8f0","#ffffff","#f4efc8","#dfc865","#cba535"]},"legend":null}
}
}
},
{
"bounds":"flush",
"spacing":71,
"hconcat":[
{
"width":36,"height":38,
"view":{"stroke":null},
"data":{"name":"T"},
"mark":{"type":"text","fontSize":14,"color":"#111","dy":-15},
"encoding":{"y":{"field":"t","type":"nominal","sort":null,"axis":null},"text":{"field":"t"}}
},
{
"width":105,"height":15,
"view":{"stroke":null},
"title":{"text":"Control vs BD","anchor":"middle","fontSize":14,"fontWeight":"normal","frame":"group","offset":2,"dx":-11},
"data":{"name":"L"},
"mark":{"type":"rect","strokeWidth":1.5},
"encoding":{
"x":{"field":"v","type":"ordinal","sort":null,"axis":{"labelExpr":"datum.value == -3 ? '-2' : datum.value == 0 ? 'NS' : datum.value == 3 ? '2' : ''","labelAngle":0,"labelFontSize":14,"labelPadding":3,"labelOverlap":false}},
"color":{"field":"v","type":"ordinal","scale":{"domain":[-3,-2,-1,0,1,2,3],"range":["#5a4fb0","#9b91d3","#dcd8f0","#ffffff","#f4efc8","#dfc865","#cba535"]},"legend":null},
"stroke":{"condition":{"test":"datum.v == 0","value":"#b0b0b0"},"value":"#ffffff"}
}
}
]
}
]
}
]
}
